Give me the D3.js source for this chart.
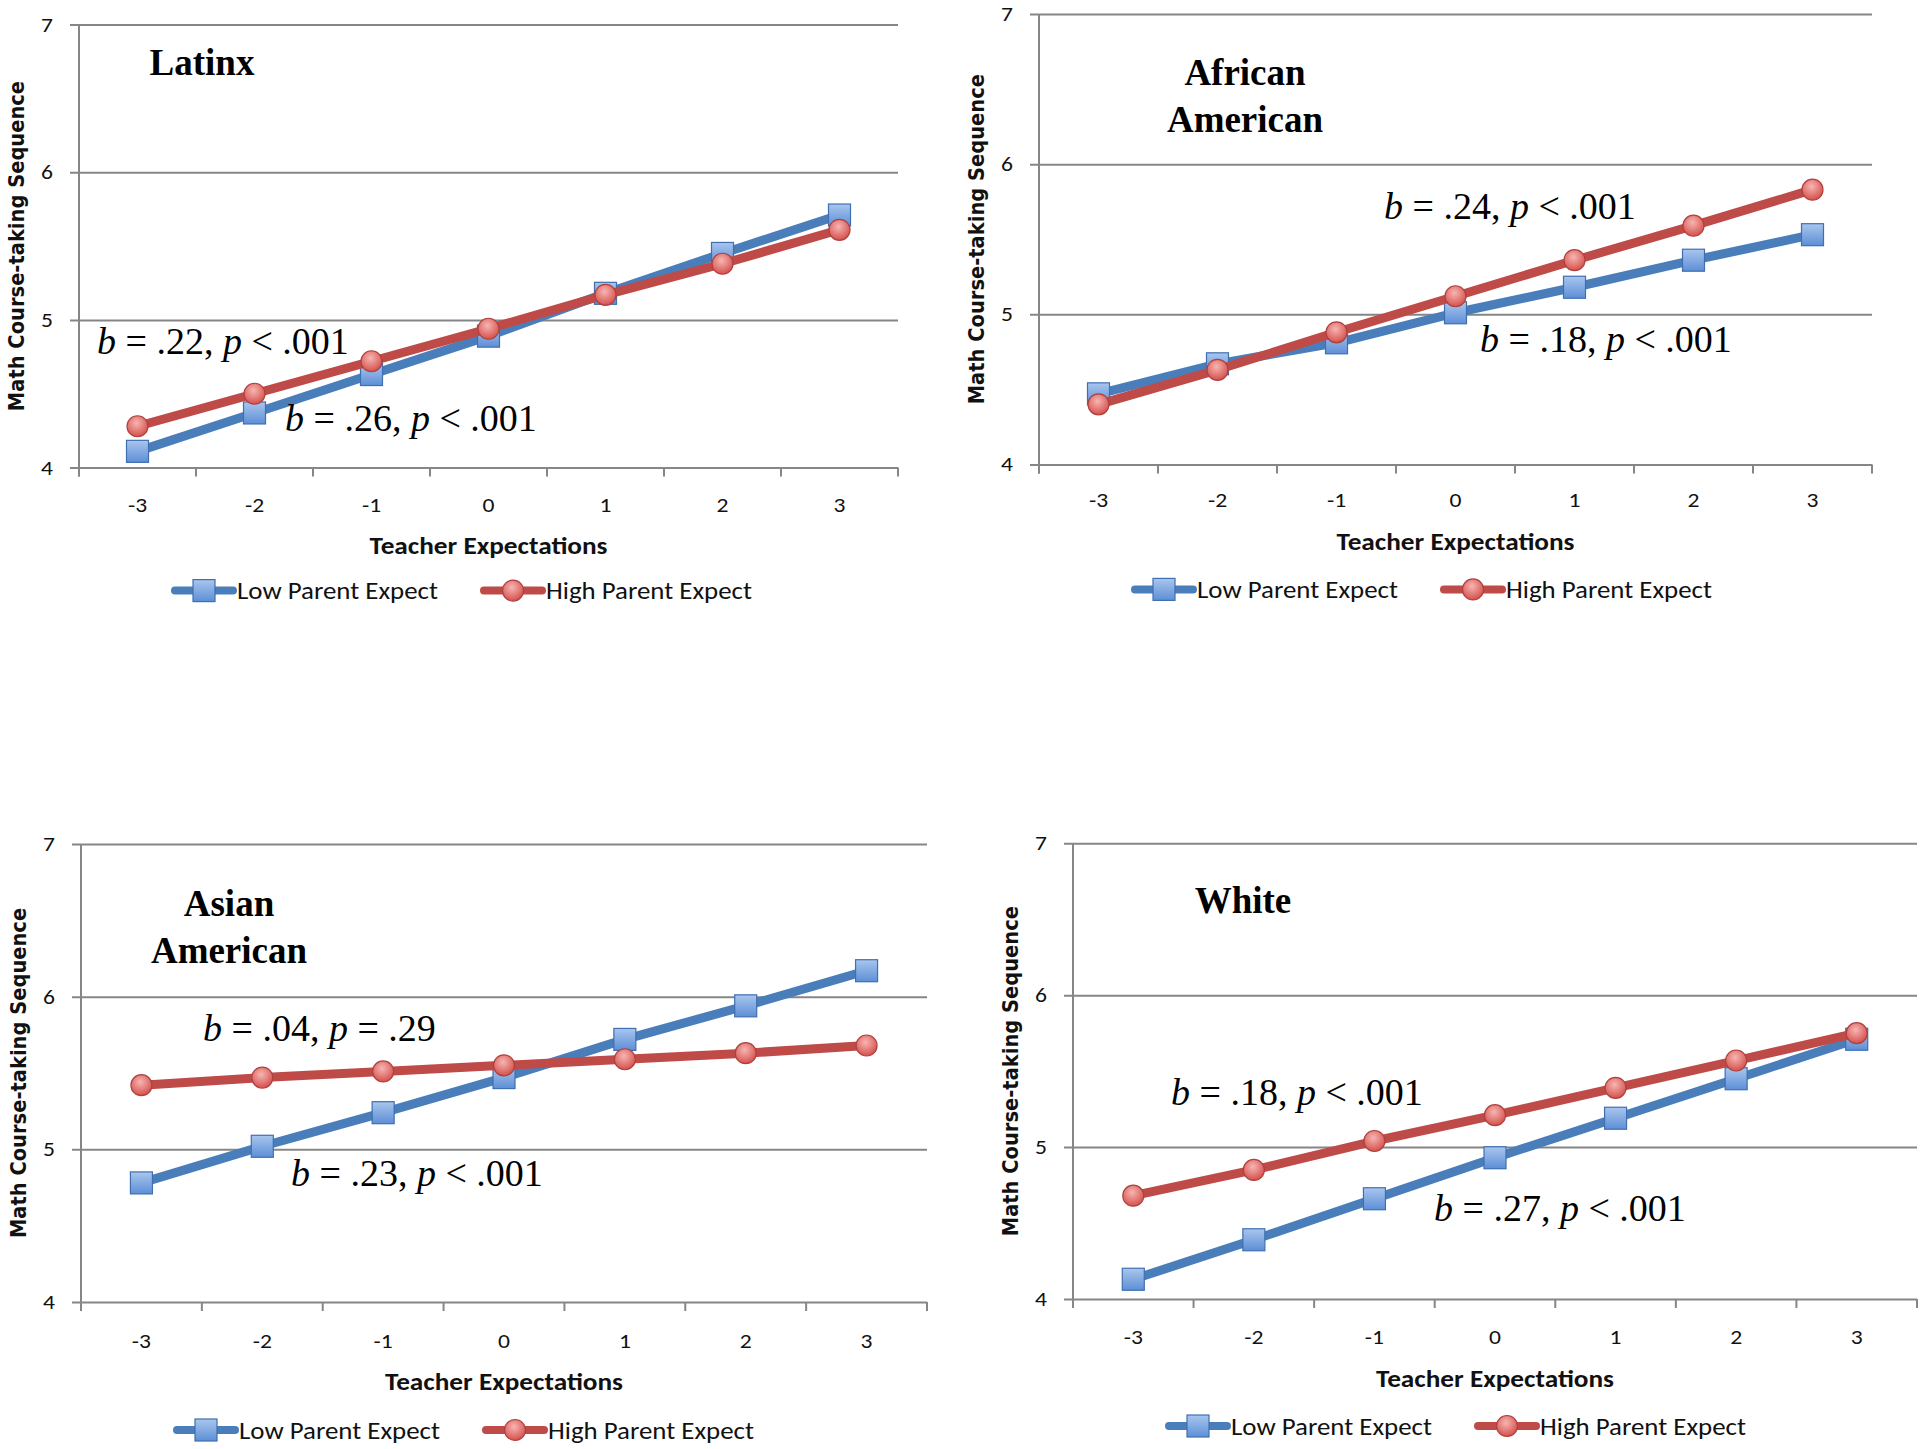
<!DOCTYPE html>
<html>
<head>
<meta charset="utf-8">
<script src="https://cdn.jsdelivr.net/npm/d3@7"></script>
<style>
  html, body { margin: 0; padding: 0; background: #fff; }
  svg { display: block; }
  .sans { font-family: Carlito, "Open Sans", sans-serif; }
  .serif { font-family: "Liberation Serif", "Times New Roman", serif; }
</style>
</head>
<body>
<svg id="chart" width="1920" height="1449"></svg>
<script>
// teacher expectations (x) and y axis ticks
const categories = [-3, -2, -1, 0, 1, 2, 3];
const yTicks = [4, 5, 6, 7];
const seriesNames = ["Low Parent Expect", "High Parent Expect"];
const groups = ["Latinx", "African American", "Asian American", "White"];

// values
const lowLatinx  = [4.11, 4.37, 4.63, 4.89, 5.18, 5.45, 5.71];
const highLatinx = [4.28, 4.50, 4.72, 4.94, 5.17, 5.38, 5.61];
const lowAfrican  = [4.47, 4.67, 4.81, 5.01, 5.18, 5.36, 5.53];
const highAfrican = [4.40, 4.63, 4.88, 5.12, 5.36, 5.59, 5.83];
const lowAsian  = [4.78, 5.02, 5.24, 5.47, 5.72, 5.94, 6.17];
const highAsian = [5.42, 5.47, 5.51, 5.55, 5.59, 5.63, 5.68];
const lowWhite  = [4.13, 4.39, 4.66, 4.93, 5.19, 5.45, 5.71];
const highWhite = [4.68, 4.85, 5.04, 5.21, 5.39, 5.57, 5.75];

// slope annotations
const bLow  = [".26", ".18", ".23", ".27"];
const pLow  = ["< .001", "< .001", "< .001", "< .001"];
const bHigh = [".22", ".24", ".04", ".18"];
const pHigh = ["< .001", "< .001", "= .29", "< .001"];

const lowSeries  = [lowLatinx, lowAfrican, lowAsian, lowWhite];
const highSeries = [highLatinx, highAfrican, highAsian, highWhite];

// panel layout (pixels)
const panels = [
  { l: 79,   r: 898,  t: 24.5, b: 467.6, title: ["Latinx"], tx: 202, ty: 75,
    hi: [97, 354], lo: [285, 431], tickDy: 37, xtDy: 78, legDy: 123 },
  { l: 1039, r: 1872, t: 14,   b: 464.4, title: ["African", "American"], tx: 1245, ty: 85,
    hi: [1384, 219], lo: [1480, 352], tickDy: 36, xtDy: 77, legDy: 125 },
  { l: 81,   r: 927,  t: 844,  b: 1302, title: ["Asian", "American"], tx: 229, ty: 916,
    hi: [203, 1041], lo: [291, 1186], tickDy: 39, xtDy: 79, legDy: 128 },
  { l: 1073, r: 1917, t: 843.3, b: 1299, title: ["White"], tx: 1243, ty: 913,
    hi: [1171, 1105], lo: [1434, 1221], tickDy: 38, xtDy: 79, legDy: 127 }
];

const blue = "#4A7EBB", red = "#BE4B48", grid = "#868686";
const stretch = 1.15; // chart text in the picture is widened

const svg = d3.select("#chart");
const defs = svg.append("defs");
const bg = defs.append("linearGradient").attr("id", "sqGrad").attr("x1", 0).attr("y1", 0).attr("x2", 0).attr("y2", 1);
bg.append("stop").attr("offset", "0%").attr("stop-color", "#A9C6EE");
bg.append("stop").attr("offset", "100%").attr("stop-color", "#5D8FD6");
const rg = defs.append("radialGradient").attr("id", "ciGrad").attr("cx", "45%").attr("cy", "35%").attr("r", "65%");
rg.append("stop").attr("offset", "0%").attr("stop-color", "#F7B5B2");
rg.append("stop").attr("offset", "100%").attr("stop-color", "#D4504C");

function fit(text, w) {
  const n = text.node().getComputedTextLength();
  if (Math.abs(n - w) / w > 0.02) text.attr("textLength", w).attr("lengthAdjust", "spacingAndGlyphs");
}

function marker(g, kind, cx, cy) {
  if (kind === 0) {
    g.append("rect").attr("x", cx - 11).attr("y", cy - 11).attr("width", 22).attr("height", 22)
      .attr("fill", "url(#sqGrad)").attr("stroke", "#3F6FB0").attr("stroke-width", 1.2);
  } else {
    g.append("circle").attr("cx", cx).attr("cy", cy).attr("r", 10.5)
      .attr("fill", "url(#ciGrad)").attr("stroke", "#B0403D").attr("stroke-width", 1.2);
  }
}

function annot(g, pos, b, p) {
  const t = g.append("text").attr("class", "serif").attr("x", pos[0]).attr("y", pos[1])
    .style("font-size", "38px").attr("fill", "#000");
  t.append("tspan").attr("font-style", "italic").text("b");
  t.append("tspan").text(" = " + b + ", ");
  t.append("tspan").attr("font-style", "italic").text("p");
  t.append("tspan").text(" " + p);
}

panels.forEach((P, i) => {
  const g = svg.append("g");
  const x = d3.scaleBand().domain(categories).range([P.l, P.r]);
  const y = d3.scaleLinear().domain([4, 7]).range([P.b, P.t]);
  const cx = d => x(d) + x.bandwidth() / 2;

  // gridlines + y ticks
  g.append("g").attr("transform", `translate(${P.l},0)`)
    .call(d3.axisLeft(y).tickValues(yTicks).tickFormat(d3.format("d")).tickSize(9))
    .call(a => a.select(".domain").remove())
    .call(a => a.selectAll("line").attr("x2", -9).attr("x1", P.r - P.l)
      .attr("stroke", grid).attr("stroke-width", 2))
    .call(a => a.selectAll("text").attr("class", "sans").style("font-size", "20.5px").attr("fill", "#111")
      .attr("x", -26 / stretch).attr("transform", `scale(${stretch},1)`));

  // vertical axis
  g.append("line").attr("x1", P.l).attr("x2", P.l).attr("y1", P.t).attr("y2", P.b + 9)
    .attr("stroke", grid).attr("stroke-width", 2);
  // x tick marks at category boundaries
  const edges = categories.map(c => x(c)).concat([P.r]);
  g.selectAll(".xt").data(edges).join("line")
    .attr("x1", d => d).attr("x2", d => d).attr("y1", P.b).attr("y2", P.b + 9)
    .attr("stroke", grid).attr("stroke-width", 2);
  // x tick labels
  g.append("g").attr("transform", `translate(0,${P.b})`)
    .call(d3.axisBottom(x).tickSize(0).tickPadding(0))
    .call(a => a.select(".domain").remove())
    .call(a => a.selectAll("text").attr("class", "sans").style("font-size", "20.5px").attr("fill", "#111")
      .attr("dy", null).attr("y", P.tickDy).attr("dominant-baseline", "central")
      .attr("transform", `scale(${stretch},1)`));

  // axis titles
  const xc = (P.l + P.r) / 2;
  const xt = g.append("text").attr("class", "sans").attr("x", xc).attr("y", P.b + P.xtDy)
    .attr("text-anchor", "middle").attr("dominant-baseline", "central")
    .style("font-size", "24px").attr("font-weight", "bold").attr("fill", "#111").text("Teacher Expectations");
  fit(xt, 238);
  const yt = g.append("text")
    .attr("transform", `translate(${P.l - 62},${(P.t + P.b) / 2}) rotate(-90) scale(1,1.12)`)
    .attr("text-anchor", "middle").attr("dominant-baseline", "central")
    .attr("font-family", "'DejaVu Sans', Verdana, sans-serif").attr("font-weight", "bold")
    .style("font-size", "19.5px").attr("fill", "#111").text("Math Course-taking Sequence");
  fit(yt, 334);

  // panel title
  const tt = g.append("text").attr("class", "serif").attr("font-weight", "bold").style("font-size", "37px")
    .attr("text-anchor", "middle").attr("fill", "#000");
  P.title.forEach((s, k) => tt.append("tspan").attr("x", P.tx).attr("y", P.ty + k * 47).text(s));

  // series
  const line = d3.line().x((d, j) => cx(categories[j])).y(d => y(d));
  [lowSeries[i], highSeries[i]].forEach((vals, k) => {
    const sg = g.append("g");
    sg.append("path").datum(vals).attr("d", line).attr("fill", "none")
      .attr("stroke", k === 0 ? blue : red).attr("stroke-width", 9).attr("stroke-linejoin", "round");
    vals.forEach((v, j) => marker(sg, k, cx(categories[j]), y(v)));
  });

  // annotations
  annot(g, P.hi, bHigh[i], pHigh[i]);
  annot(g, P.lo, bLow[i], pLow[i]);

  // legend
  const ly = P.b + P.legDy;
  [0, 1].forEach(k => {
    const lx = P.l + (k === 0 ? 96 : 405);
    g.append("line").attr("x1", lx).attr("x2", lx + 58).attr("y1", ly).attr("y2", ly)
      .attr("stroke", k === 0 ? blue : red).attr("stroke-width", 8).attr("stroke-linecap", "round");
    marker(g, k, lx + 29, ly);
    const lt = g.append("text").attr("class", "sans").attr("x", lx + 62).attr("y", ly)
      .attr("dominant-baseline", "central").style("font-size", "24px").attr("fill", "#111").text(seriesNames[k]);
    fit(lt, k === 0 ? 201 : 206);
  });
});
</script>
</body>
</html>
